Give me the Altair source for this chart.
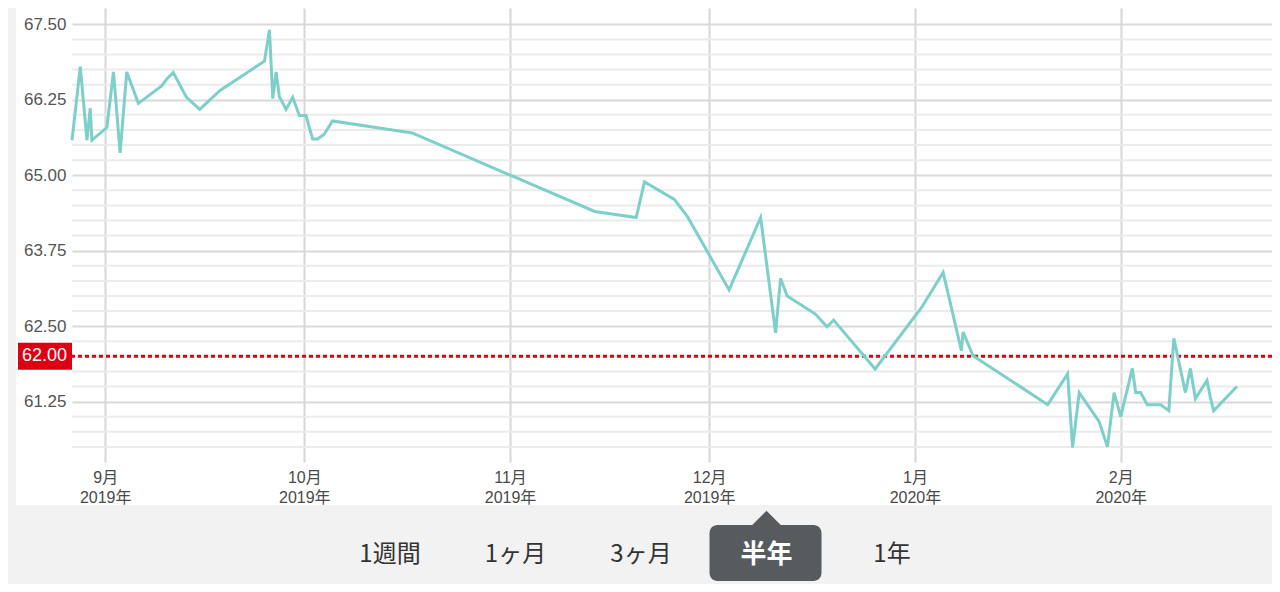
import altair as alt
import pandas as pd

# ---- data ----
dates = [
    "2019-08-27T00", "2019-08-28T06", "2019-08-29T06", "2019-08-29T18", "2019-08-30T00",
    "2019-09-01T06", "2019-09-02T06", "2019-09-03T06", "2019-09-04T06", "2019-09-06T00",
    "2019-09-09T12", "2019-09-10T06", "2019-09-11T06", "2019-09-13T06", "2019-09-15T06",
    "2019-09-18T06", "2019-09-25T00", "2019-09-25T18", "2019-09-26T06", "2019-09-26T18",
    "2019-09-27T06", "2019-09-28T06", "2019-09-29T06", "2019-09-30T06", "2019-10-01T06",
    "2019-10-02T06", "2019-10-03T00", "2019-10-04T00", "2019-10-05T06", "2019-10-17T06",
    "2019-11-13T18", "2019-11-20T00", "2019-11-21T06", "2019-11-25T18", "2019-11-27T18",
    "2019-12-04T00", "2019-12-08T18", "2019-12-11T00", "2019-12-11T18", "2019-12-12T18",
    "2019-12-17T00", "2019-12-18T18", "2019-12-19T18", "2019-12-26T00", "2020-01-02T00",
    "2020-01-05T06", "2020-01-08T00", "2020-01-08T06", "2020-01-09T18", "2020-01-21T00",
    "2020-01-24T00", "2020-01-24T18", "2020-01-25T18", "2020-01-28T18", "2020-01-30T00",
    "2020-01-31T00", "2020-02-01T00", "2020-02-02T18", "2020-02-03T06", "2020-02-04T00",
    "2020-02-05T00", "2020-02-07T00", "2020-02-08T06", "2020-02-09T00", "2020-02-10T18",
    "2020-02-11T12", "2020-02-12T06", "2020-02-14T00", "2020-02-14T12", "2020-02-15T00",
    "2020-02-18T12",
]
prices = [
    65.58, 66.80, 65.58, 66.11, 65.58,
    65.79, 66.71, 65.37, 66.71, 66.19,
    66.48, 66.59, 66.70, 66.29, 66.09,
    66.40, 66.89, 67.41, 66.27, 66.71,
    66.30, 66.09, 66.29, 65.99, 65.99,
    65.60, 65.60, 65.68, 65.90, 65.70,
    64.40, 64.30, 64.89, 64.60, 64.31,
    63.10, 64.30, 62.39, 63.29, 63.00,
    62.70, 62.49, 62.60, 61.79, 62.81,
    63.39, 62.09, 62.40, 62.01, 61.20,
    61.71, 60.49, 61.40, 60.92, 60.50,
    61.40, 61.00, 61.80, 61.40, 61.40,
    61.20, 61.20, 61.10, 62.30, 61.40,
    61.80, 61.30, 61.60, 61.32, 61.10,
    61.50,
]
threshold = [62.00]
y_tick_values = [61.25, 62.50, 63.75, 65.00, 66.25, 67.50]
month_ticks = [(2019, 9), (2019, 10), (2019, 11), (2019, 12), (2020, 1), (2020, 2)]
nav_labels = ["1週間", "1ヶ月", "3ヶ月", "半年", "1年"]
selected_nav = "半年"

# ---- style ----
FONT = "Liberation Sans, Noto Sans CJK JP"
CJK = "Noto Sans CJK JP"
LINE = "#7dcfca"
RED = "#dc0012"
W, H = 1200, 454

df = pd.DataFrame({"date": [d + ":00:00Z" for d in dates], "price": prices})

x_scale = alt.Scale(
    type="utc",
    domain=[alt.DateTime(year=2019, month=8, date=27, utc=True),
            alt.DateTime(year=2020, month=2, date=23, hours=19, utc=True)],
)
x_enc = alt.X(
    "date:T", scale=x_scale,
    axis=alt.Axis(
        values=[alt.DateTime(year=y, month=m, date=1, utc=True) for y, m in month_ticks],
        grid=True, gridColor="#d6d6d6", gridWidth=2, ticks=False, domain=False,
        labelExpr="[utcFormat(datum.value, '%-m') + '月', utcFormat(datum.value, '%Y') + '年']",
        labelFontSize=16, labelColor="#4a4a4a", labelFont=FONT, labelLineHeight=20,
        labelPadding=7, labelOverlap=False, labelFlush=False, title=None,
    ),
)
y_scale = alt.Scale(domain=[60.25, 67.77], zero=False, nice=False)
y_enc = alt.Y(
    "price:Q", scale=y_scale,
    axis=alt.Axis(
        values=y_tick_values, format=".2f", grid=True, gridColor="#d9d9d9", gridWidth=2,
        ticks=False, domain=False, labelFontSize=17, labelColor="#555555", labelFont=FONT,
        labelPadding=6, title=None,
    ),
)

dummy = alt.Data(values=[{}])

# minor horizontal grid every 0.25
grid_vals = [60.5 + 0.25 * i for i in range(29)]
minor = [v for v in grid_vals if v not in y_tick_values]
minor_grid = alt.Chart(pd.DataFrame({"price": minor})).mark_rule(
    color="#ebebeb", strokeWidth=2).encode(y=y_enc)

line = alt.Chart(df).mark_line(color=LINE, strokeWidth=3).encode(x=x_enc, y=y_enc)

thr_df = pd.DataFrame({"price": threshold})
thr_rule = alt.Chart(thr_df).mark_rule(color=RED, strokeWidth=3, strokeDash=[4, 3]).encode(y=y_enc)
thr_box = alt.Chart(thr_df).mark_rule(color=RED, strokeWidth=27, strokeCap="butt").encode(
    y=y_enc, x=alt.value(-54), x2=alt.value(0))
thr_text = alt.Chart(thr_df).mark_text(
    align="right", baseline="middle", color="white", fontSize=18, font=FONT).encode(
    y=y_enc, x=alt.value(-5), text=alt.Text("price:Q", format=".2f"))

# page chrome
bottom_bg = alt.Chart(dummy).mark_rect(color="#f2f2f2").encode(
    x=alt.value(-64), x2=alt.value(W), y=alt.value(497), y2=alt.value(576))
left_bg = alt.Chart(dummy).mark_rect(color="#f2f2f2").encode(
    x=alt.value(-64), x2=alt.value(-56), y=alt.value(0), y2=alt.value(497))

nav_x0, nav_step, nav_y = 318, 125.5, 547
sel_i = nav_labels.index(selected_nav)
sel_x = nav_x0 + sel_i * nav_step
button = alt.Chart(dummy).mark_rect(color="#575b5e", cornerRadius=8).encode(
    x=alt.value(sel_x - 57), x2=alt.value(sel_x + 55), y=alt.value(517), y2=alt.value(573))
pointer = alt.Chart(dummy).mark_point(
    shape="M-1,0.5L0,-0.5L1,0.5Z", filled=True, color="#575b5e", size=841, opacity=1,
    strokeWidth=0).encode(x=alt.value(sel_x), y=alt.value(510))

nav_layers = []
for i, lab in enumerate(nav_labels):
    sel = lab == selected_nav
    nav_layers.append(
        alt.Chart(dummy).mark_text(
            text=lab, align="center", baseline="middle", font=CJK,
            fontSize=26 if sel else 24, fontWeight="bold" if sel else "normal",
            color="white" if sel else "#333333",
        ).encode(x=alt.value(nav_x0 + i * nav_step), y=alt.value(nav_y))
    )

chart = alt.layer(
    bottom_bg, left_bg, minor_grid, thr_rule, line, thr_box, thr_text, button, pointer,
    *nav_layers,
).properties(
    width=W, height=H,
    padding={"left": 64, "top": 0, "right": 0, "bottom": 122},
    autosize=alt.AutoSizeParams(type="none"),
    background="white",
).configure_view(strokeWidth=0)

chart.save("out.html", embed_options={"renderer": "svg", "actions": False})
